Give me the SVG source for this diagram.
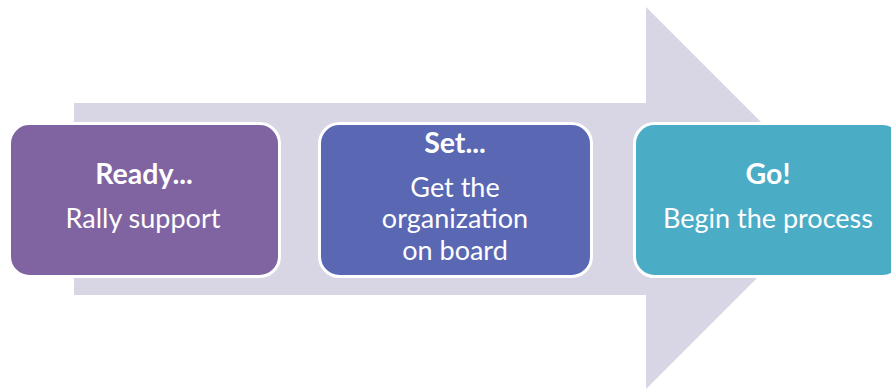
<svg xmlns="http://www.w3.org/2000/svg" width="891" height="390" viewBox="0 0 891 390">
<style>
.box{stroke:#ffffff;stroke-width:3}
.t{font-family:Lato,"Open Sans","Liberation Sans",sans-serif;font-size:27px;fill:#ffffff;text-anchor:middle}
.b{font-weight:bold;font-size:28.5px}
</style>
<rect width="891" height="390" fill="#ffffff"/>
<g id="arrow">
<polygon points="74,103 646,103 646,7 837,198 646,389 646,295 74,295" fill="#D8D5E4"/>
</g>
<g id="connectors"></g>
<g id="ready">
<rect class="box" x="9.5" y="123.5" width="270" height="153" rx="20" fill="#8064A2"/>
<text class="t b" x="144" y="184">Ready...</text>
<text class="t" x="143" y="228">Rally support</text>
</g>
<g id="set">
<rect class="box" x="319.5" y="123.5" width="272" height="153" rx="20" fill="#5A67B3"/>
<text class="t b" x="455" y="153">Set...</text>
<text class="t" x="455" y="197">Get the</text>
<text class="t" x="455" y="228">organization</text>
<text class="t" x="455" y="260">on board</text>
</g>
<g id="go">
<rect class="box" x="634.5" y="123.5" width="268" height="153" rx="20" fill="#4BACC6"/>
<text class="t b" x="768" y="184">Go!</text>
<text class="t" x="768" y="228">Begin the process</text>
</g>
</svg>
